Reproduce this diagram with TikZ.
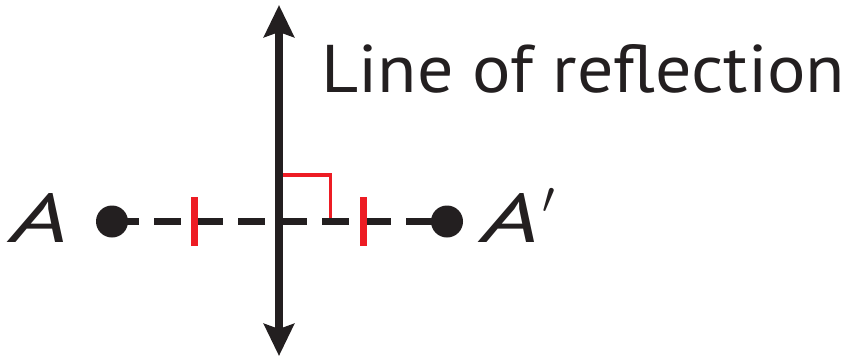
\documentclass[tikz,border=0pt]{standalone}
\usepackage{fontspec}
\setmainfont{PT Sans}
\usetikzlibrary{arrows.meta}
\definecolor{ink}{HTML}{231F20}
\definecolor{mred}{HTML}{ED1C24}
\tikzset{
  axisline/.style={draw=ink, line width=8pt, {Stealth[length=32pt,width=30pt,inset=5pt]}-{Stealth[length=32pt,width=30pt,inset=5pt]}},
  segline/.style={draw=ink, line width=6.5pt, dash pattern=on 26.5pt off 15.5pt},
  dotpt/.style={circle, fill=ink, inner sep=0pt, minimum size=32pt},
  tickmark/.style={draw=mred, line width=7pt},
  rightmark/.style={draw=mred, line width=3.5pt},
  lbl/.style={inner sep=0pt, text=ink}
}
\begin{document}
\begin{tikzpicture}[x=1pt,y=-1pt]
\useasboundingbox (0,0) rectangle (851,359);
\coordinate (top) at (279,5);
\coordinate (bot) at (279,356);
\coordinate (Ac) at (112,221.5);
\coordinate (Apc) at (447,221.5);
% dashed segment (drawn under the dots)
\path[segline] (Ac) -- (Apc);
\node[dotpt] (A) at (Ac) {};
\node[dotpt] (Ap) at (Apc) {};
% line of reflection
\path[axisline] (top) -- (bot);
% congruence ticks
\draw[tickmark] (194.5,197) -- (194.5,246);
\draw[tickmark] (363,197) -- (363,246);
% right angle marker
\draw[rightmark] (283,175) -- (330.5,175) -- (330.5,218);
% labels
\node[lbl, anchor=base west] (lineof) at (321,92) {\resizebox{524pt}{48pt}{\fontsize{63}{63}\selectfont Line of reflection}};
\node[lbl, anchor=base west] (labA) at (10,242.5) {\resizebox{58pt}{49pt}{\itshape A}};
\node[lbl, anchor=base west] (labAp) at (481,242.5) {\resizebox{58pt}{49pt}{\itshape A}\hspace{3pt}\raisebox{29pt}{\resizebox{!}{25pt}{$\prime$}}};
\end{tikzpicture}
\end{document}
